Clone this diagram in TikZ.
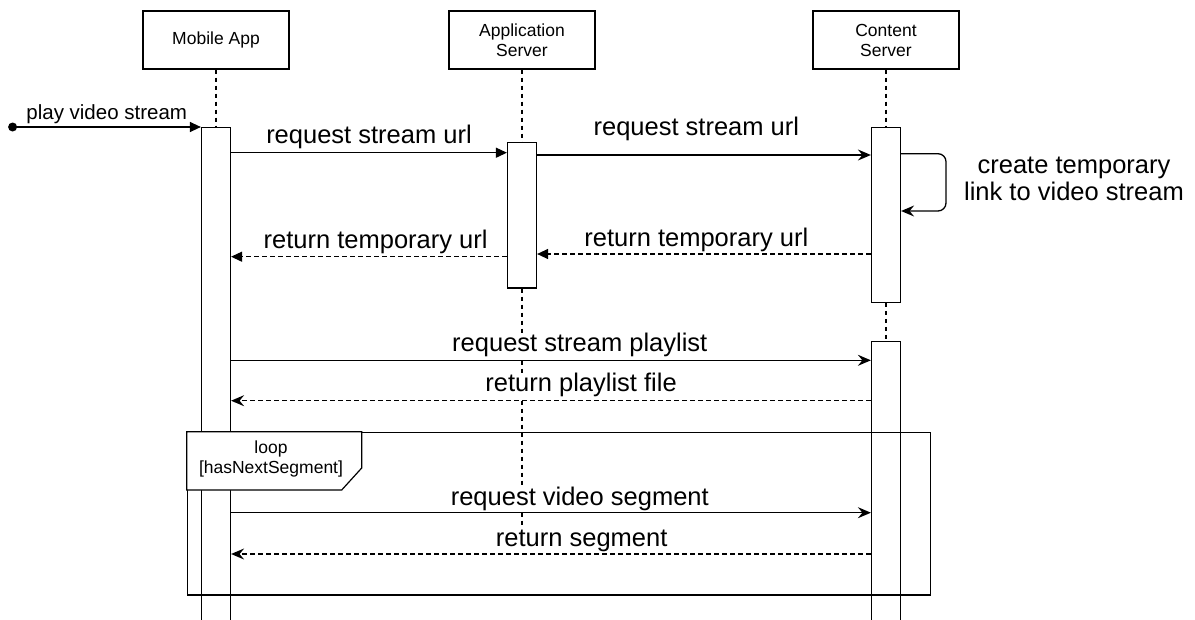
\documentclass[tikz,border=0pt]{standalone}
\usepackage{fontspec}
\setmainfont{Liberation Sans}
\usetikzlibrary{arrows.meta,backgrounds}
\newcommand{\hdrfont}{\fontsize{17.5}{20}\selectfont}
\newcommand{\msgfont}{\fontsize{25.5}{27}\selectfont}
\newcommand{\startfont}{\fontsize{20.5}{23}\selectfont}

\begin{document}
\begin{tikzpicture}[x=1pt,y=-1pt,
  lw/.style={line width=1.2pt},
  header/.style={draw, lw, fill=white, minimum width=146pt, minimum height=58pt,
    align=center, font=\hdrfont, inner sep=0pt},
  actbar/.style={draw, lw, fill=white, minimum width=29pt, anchor=north, inner sep=0pt},
  lifeline/.style={lw, dash pattern=on 4.5pt off 3.5pt},
  call/.style={line width=1.3pt, -{Triangle[length=11pt,width=10pt]}},
  callc/.style={line width=1.3pt, -{Stealth[length=13pt,width=11pt,inset=4.5pt]}},
  reply/.style={call, dash pattern=on 4.5pt off 3.5pt},
  replyc/.style={callc, dash pattern=on 4.5pt off 3.5pt},
  lbl/.style={font=\msgfont, fill=white, inner sep=0.5pt, anchor=base},
  startlbl/.style={font=\startfont, inner sep=0pt, anchor=base},
  looplbl/.style={font=\hdrfont, inner sep=0pt, anchor=base},
]
\useasboundingbox (0,0) rectangle (1195,619);
\clip (0,0) rectangle (1195,619);

% participants
\node[header] (ma) at (216,40) {Mobile App};
\node[header] (as) at (522,40) {Application\\Server};
\node[header] (cs) at (886,40) {Content\\Server};

% activation bars
\node[actbar, minimum height=500pt] (mb) at (216,127) {};
\node[actbar, minimum height=145.6pt] (ab) at (522,141.7) {};
\node[actbar, minimum height=174.7pt] (cb1) at (886,127) {};
\node[actbar, minimum height=290pt] (cb2) at (886,341) {};

% lifelines, kept behind the bars
\coordinate (asEnd) at (522,527);
\begin{scope}[on background layer]
  \draw[lifeline] (ma.south) -- (mb.north);
  \draw[lifeline] (as.south) -- (ab.north);
  \draw[lifeline] (ab.south) -- (asEnd);
  \draw[lifeline] (cs.south) -- (cb1.north);
  \draw[lifeline] (cb1.south) -- (cb2.north);
\end{scope}

% loop fragment
\node[draw, lw, minimum width=742.9pt, minimum height=162.6pt, anchor=north west,
  inner sep=0pt] (loopfr) at (186.7,431.7) {};
\draw[lw, fill=white] (loopfr.north west) -- ++(175,0) -- ++(0,36.3) -- ++(-20,22)
  -- ++(-155,0) -- cycle;
\node[looplbl] (loopA) at (271,453.3) {loop};
\node[looplbl] (loopB) at (271,473.3) {[hasNextSegment]};

% message rows
\coordinate (r1) at (0,152.7);
\coordinate (r2) at (0,155);
\coordinate (s1) at (0,153.7);
\coordinate (s2) at (0,211);
\coordinate (selfx) at (946,0);
\coordinate (r3) at (0,254);
\coordinate (r4) at (0,256.7);
\coordinate (r5) at (0,360.3);
\coordinate (r6) at (0,400.7);
\coordinate (r7) at (0,512.7);
\coordinate (r8) at (0,554);

% found message
\node[circle, fill, inner sep=0pt, minimum size=9pt] (start) at (12.6,127) {};
\draw[call] (start.center) -- (mb.north west)
  node[startlbl, midway, yshift=8pt] {play video stream};

\draw[call] (mb.east |- r1) -- (ab.west |- r1)
  node[lbl, midway, yshift=9.4pt] {request stream url};
\draw[callc] (ab.east |- r2) -- (cb1.west |- r2)
  node[lbl, pos=0.477, yshift=20pt] {request stream url};

% self call
\draw[callc, rounded corners=8pt] (cb1.east |- s1) -- (selfx |- s1) -- (selfx |- s2)
  -- (cb1.east |- s2);
\node[font=\msgfont, anchor=base] (selfA) at (1074,173.3) {create temporary};
\node[font=\msgfont, anchor=base] (selfB) at (1074,200) {link to video stream};

\draw[reply] (cb1.west |- r3) -- (ab.east |- r3)
  node[lbl, pos=0.523, yshift=7.3pt] {return temporary url};
\draw[reply] (ab.west |- r4) -- (mb.east |- r4)
  node[lbl, pos=0.476, yshift=8.4pt] {return temporary url};

\draw[callc] (mb.east |- r5) -- (cb2.west |- r5)
  node[lbl, pos=0.545, yshift=8.6pt] {request stream playlist};
\draw[replyc] (cb2.west |- r6) -- (mb.east |- r6)
  node[lbl, pos=0.453, yshift=9pt] {return playlist file};

\draw[callc] (mb.east |- r7) -- (cb2.west |- r7)
  node[lbl, pos=0.545, yshift=7.7pt] {request video segment};
\draw[replyc] (cb2.west |- r8) -- (mb.east |- r8)
  node[lbl, pos=0.452, yshift=7.3pt] {return segment};
\end{tikzpicture}
\end{document}
